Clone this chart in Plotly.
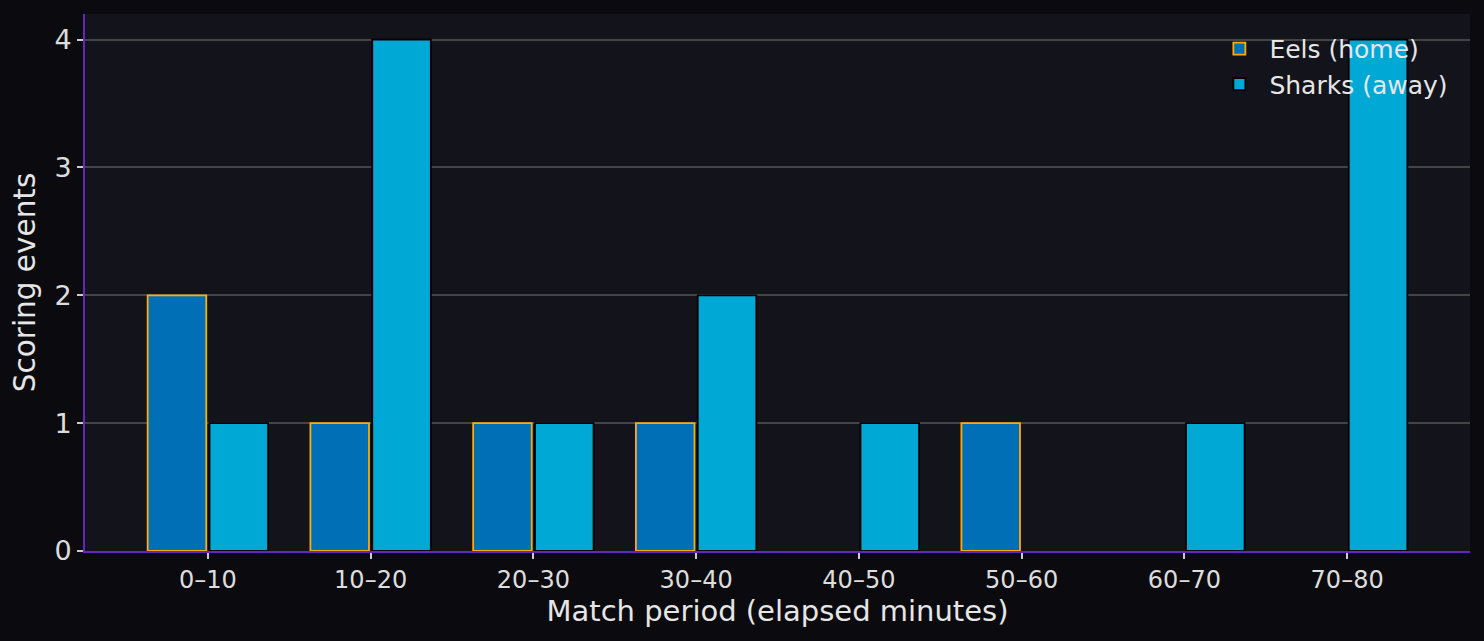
import plotly.graph_objects as go

categories = ["0–10", "10–20", "20–30", "30–40", "40–50", "50–60", "60–70", "70–80"]
eels_home = [2, 1, 1, 1, 0, 1, 0, 0]
sharks_away = [1, 4, 1, 2, 1, 0, 1, 4]
y_ticks = [0, 1, 2, 3, 4]

FONT = "DejaVu Sans"
TEXT = "#e6e6e6"
SPINE = "#6526c0"


def edge_widths(values, w=1.8):
    return [w if v > 0 else 0 for v in values]


fig = go.Figure()
fig.add_trace(go.Bar(
    x=categories, y=eels_home, name="Eels (home)",
    offset=-0.37, width=0.36,
    marker=dict(color="#006fb5", line=dict(color="#fbad0c", width=edge_widths(eels_home))),
))
fig.add_trace(go.Bar(
    x=categories, y=sharks_away, name="Sharks (away)",
    offset=0.01, width=0.36,
    marker=dict(color="#00a8d6", line=dict(color="#000000", width=edge_widths(sharks_away))),
))

fig.update_layout(
    width=1484, height=641,
    margin=dict(l=85, r=14, t=14, b=90),
    paper_bgcolor="#0b0b0f",
    plot_bgcolor="#12131b",
    font=dict(family=FONT, color=TEXT),
    barmode="overlay",
    showlegend=True,
    legend=dict(
        x=0.988, xanchor="right", y=0.978, yanchor="top",
        bgcolor="rgba(0,0,0,0)", font=dict(size=25, color=TEXT, family=FONT),
        itemwidth=50, tracegroupgap=4,
    ),
    xaxis=dict(
        type="category",
        range=[-0.755, 7.755],
        showgrid=False,
        showline=True, linecolor=SPINE, linewidth=2,
        ticks="outside", ticklen=6, tickwidth=1.5, tickcolor="#cccccc",
        tickfont=dict(size=24, color="#dddddd", family=FONT),
        title=dict(text="Match period (elapsed minutes)", font=dict(size=29, color=TEXT, family=FONT), standoff=6),
        zeroline=False,
    ),
    yaxis=dict(
        range=[0, 4.2],
        tickmode="array", tickvals=y_ticks, ticktext=[str(v) for v in y_ticks],
        showgrid=True, gridcolor="#444448", gridwidth=1.5,
        showline=True, linecolor=SPINE, linewidth=2,
        ticks="outside", ticklen=6, tickwidth=1.5, tickcolor="#cccccc",
        tickfont=dict(size=27, color="#dddddd", family=FONT),
        title=dict(text="Scoring events", font=dict(size=29.5, color=TEXT, family=FONT), standoff=10),
        zeroline=False,
    ),
)

fig.write_html(
    "out.html",
    config={"displayModeBar": False},
    post_script="document.body.style.margin='0px';document.body.style.overflow='hidden';",
)
